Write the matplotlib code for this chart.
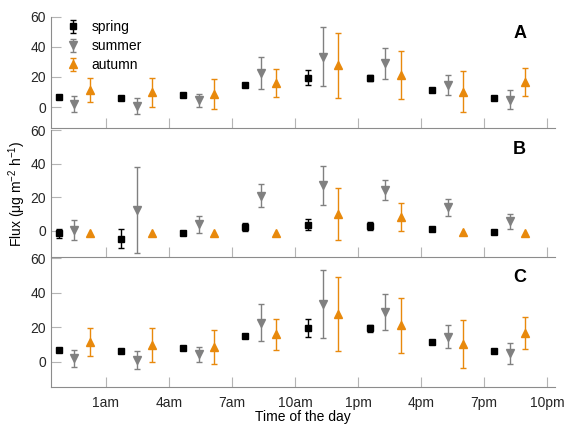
import matplotlib
matplotlib.use("Agg")
import matplotlib.pyplot as plt
import numpy as np

plt.rcParams["font.family"] = ["Liberation Sans", "DejaVu Sans"]
plt.rcParams["font.size"] = 10
plt.rcParams["mathtext.fontset"] = "custom"
plt.rcParams["mathtext.rm"] = "Liberation Sans"
plt.rcParams["mathtext.it"] = "Liberation Sans:italic"
plt.rcParams["axes.unicode_minus"] = False

NA = np.nan  # no visible error bar

# Mean flux and error (half-width) per 3-hour bin.
SPRING_A = [6.6, 6.2, 8.1, 14.7, 19.5, 19.3, 11.4, 6.2]
SPRING_A_ERR = [NA, NA, NA, NA, 5.0, 2.0, NA, NA]
SUMMER_A = [2.0, 0.9, 4.4, 22.7, 33.5, 29.0, 14.6, 4.8]
SUMMER_A_ERR = [5.0, 5.3, 4.4, 10.6, 19.7, 10.5, 6.9, 6.2]
AUTUMN_A = [11.3, 9.7, 8.5, 15.8, 27.8, 21.0, 10.3, 16.8]
AUTUMN_A_ERR = [8.0, 9.7, 9.9, 9.2, 21.6, 15.9, 13.8, 9.3]

SPRING_B = [-1.5, -4.6, -1.4, 2.2, 3.6, 3.0, 1.0, -0.5]
SPRING_B_ERR = [2.5, 5.6, NA, 2.5, 3.4, 2.5, NA, NA]
SUMMER_B = [0.4, 12.5, 3.8, 20.8, 27.0, 24.1, 14.0, 5.7]
SUMMER_B_ERR = [5.8, 25.5, 4.8, 6.8, 11.5, 6.0, 5.0, 4.5]
AUTUMN_B = [-1.0, -1.0, -1.0, -1.0, 10.0, 8.2, -0.6, -1.0]
AUTUMN_B_ERR = [NA, NA, NA, NA, 15.4, 8.4, NA, NA]

# panel C repeats the panel A values
SPRING_C, SPRING_C_ERR = SPRING_A, SPRING_A_ERR
SUMMER_C, SUMMER_C_ERR = SUMMER_A, SUMMER_A_ERR
AUTUMN_C, AUTUMN_C_ERR = AUTUMN_A, AUTUMN_A_ERR

TICK_HOURS = [1, 4, 7, 10, 13, 16, 19, 22]
TICK_LABELS = ["1am", "4am", "7am", "10am", "1pm", "4pm", "7pm", "10pm"]

ORANGE = "#E8890C"
GRAY = "#808080"
SPINE = "#8c8c8c"

bins = np.arange(8) * 2.96 - 0.5
x_spring, x_summer, x_autumn = bins - 0.74, bins, bins + 0.72

fig = plt.figure(figsize=(5.66, 4.26), dpi=100)
positions = [
    [0.090, 0.700, 0.8905, 0.2608],
    [0.090, 0.3974, 0.8905, 0.2974],
    [0.090, 0.0923, 0.8905, 0.3014],
]
ylows = [-13.8, -15.4, -14.5]
panels = [
    ("A", SPRING_A, SPRING_A_ERR, SUMMER_A, SUMMER_A_ERR, AUTUMN_A, AUTUMN_A_ERR),
    ("B", SPRING_B, SPRING_B_ERR, SUMMER_B, SUMMER_B_ERR, AUTUMN_B, AUTUMN_B_ERR),
    ("C", SPRING_C, SPRING_C_ERR, SUMMER_C, SUMMER_C_ERR, AUTUMN_C, AUTUMN_C_ERR),
]

axes = []
for pos, ylo, (label, sp, spe, su, sue, au, aue) in zip(positions, ylows, panels):
    ax = fig.add_axes(pos)
    axes.append(ax)
    common = dict(linestyle="none", capsize=2, elinewidth=1, capthick=1)
    h1 = ax.errorbar(x_spring, sp, yerr=spe, fmt="s", color="black",
                     ms=4.5, label="spring", **common)
    h2 = ax.errorbar(x_summer, su, yerr=sue, fmt="v", color=GRAY,
                     ms=5.8, label="summer", **common)
    h3 = ax.errorbar(x_autumn, au, yerr=aue, fmt="^", color=ORANGE,
                     ms=5.8, label="autumn", **common)
    ax.set_xlim(-1.62, 22.37)
    ax.set_ylim(ylo, 60)
    ax.set_yticks([0, 20, 40, 60])
    ax.set_xticks(TICK_HOURS)
    ax.set_xticklabels(TICK_LABELS if label == "C" else [])
    for side in ("top", "right"):
        ax.spines[side].set_visible(False)
    for side in ("left", "bottom"):
        ax.spines[side].set_color(SPINE)
    ax.tick_params(direction="in", length=7, color="#b4b4b4", labelsize=10,
                   labelcolor="#262626")
    ax.tick_params(axis="x", pad=7)
    ax.text(0.93, 0.85, label, transform=ax.transAxes, fontsize=13,
            fontweight="bold", ha="center", va="center")
    ax.patch.set_alpha(0)
    if label == "A":
        ax.legend(handles=[h1, h2, h3], loc="upper left", frameon=False,
                  bbox_to_anchor=(0.006, 1.08), handlelength=1.0,
                  handletextpad=0.8, labelspacing=0.36, fontsize=10)

axes[1].set_ylabel("Flux (\u03bcg m$^{-2}$ h$^{-1}$)", fontsize=10, labelpad=2)
axes[2].set_xlabel("Time of the day", fontsize=10, labelpad=0)

fig.savefig("out.png", dpi=100)
